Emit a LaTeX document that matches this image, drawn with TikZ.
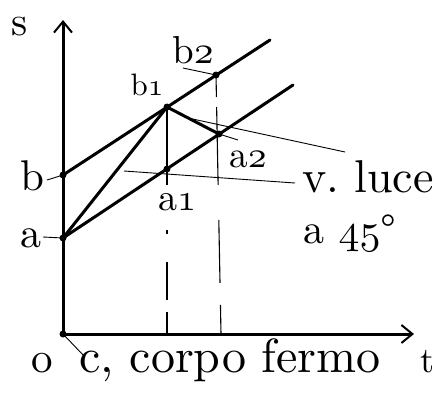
\documentclass[tikz,border=0pt]{standalone}
\usetikzlibrary{arrows.meta,positioning}
\tikzset{
  mainline/.style={line width=3pt,line cap=round},
  axisline/.style={line width=3pt,-{Straight Barb[length=11pt,width=18pt,line width=2pt]}},
  leader/.style={line width=0.9pt},
  guide/.style={line width=1.1pt},
  dot/.style={circle,fill,inner sep=0pt,minimum size=7pt},
  lbl/.style={inner sep=0pt,anchor=base},
}
% big label text, scaled from 10pt Latin Modern
\newcommand{\bigtxt}[2]{\scalebox{#1}{#2}}
\newcommand{\osn}[1]{{\usefont{OML}{cmm}{m}{it}#1}}

\begin{document}
\begin{tikzpicture}[x=1pt,y=-1pt]
\useasboundingbox (0,0) rectangle (438,394);
% points of the diagram
\coordinate (O) at (63,334);
\coordinate (sTop) at (63,20);
\coordinate (tEnd) at (414,334);
\coordinate (b) at (63,175);
\coordinate (a) at (63,238);
\coordinate (bEnd) at (270,40);
\coordinate (aEnd) at (293,85);
\coordinate (b1) at (167,107);
\coordinate (b2) at (216,75);
\coordinate (a1) at (167,169);
\coordinate (a2) at (219,134);

% axes
\draw[axisline] (O) -- (sTop);
\draw[axisline] (O) -- (tEnd);

% world lines of b and a
\draw[mainline] (b) -- (bEnd);
\draw[mainline] (a) -- (aEnd);
% light signals
\draw[mainline] (a) -- (b1) -- (a2);

% verticals
\draw[guide,dash pattern=on 78pt off 45pt on 4pt off 28pt on 38pt off 12pt on 40pt] (b1) -- (b1 |- O);
\draw[guide,dash pattern=on 22pt off 10pt on 78pt off 35pt on 63pt off 22pt on 60pt] (b2) -- (221,334);

% dots
\foreach \p in {O,b,a,b1,b2,a1,a2}
  \node[dot] at (\p) {};

% labels
\node[lbl] (sLbl) at (20,35) {\bigtxt{4.1}{s}};
\node[lbl] (tLbl) at (427,372) {\bigtxt{3.6}{t}};
\node[lbl] (oLbl) at (42,372) {\bigtxt{4.3}{o}};
\node[lbl] (cLbl) at (230,372) {\bigtxt{4.8}{c, corpo fermo}};
\node[lbl] (bLbl) at (32,190) {\bigtxt{4.3}{b}};
\node[lbl] (aLbl) at (31,247) {\bigtxt{4.2}{a}};
\node[lbl] (b1Lbl) at (147,95) {\bigtxt{3.1}{b\osn{1}}};
\node[lbl] (b2Lbl) at (193,63) {\bigtxt{3.9}{b\osn{2}}};
\node[lbl] (a1Lbl) at (177,210) {\bigtxt{3.8}{a\osn{1}}};
\node[lbl] (a2Lbl) at (248,167) {\bigtxt{3.7}{a\osn{2}}};
\node[lbl] (luceLbl) at (368,192) {\bigtxt{4.6}{v.\ luce}};
\node[lbl] (degLbl) at (350,243) {\bigtxt{4.2}{a \osn{45}\textdegree}};

% leaders
\coordinate (bTip) at (47,180);
\coordinate (aTip) at (43,237);
\coordinate (b2Tip) at (183,68);
\coordinate (a2Tip) at (238,140);
\coordinate (oTip) at (85,357);
\coordinate (lucA) at (124,171);
\coordinate (lucB) at (188,118);
\coordinate (lucAEnd) at (295,183);
\coordinate (lucBEnd) at (345,152);
\draw[leader] (bTip) -- (b);
\draw[leader] (aTip) -- (a);
\draw[leader] (b2Tip) -- (b2);
\draw[leader] (a2) -- (a2Tip);
\draw[leader] (O) -- (oTip);
\draw[leader] (lucA) -- (lucAEnd);
\draw[leader] (lucB) -- (lucBEnd);
\end{tikzpicture}
\end{document}
